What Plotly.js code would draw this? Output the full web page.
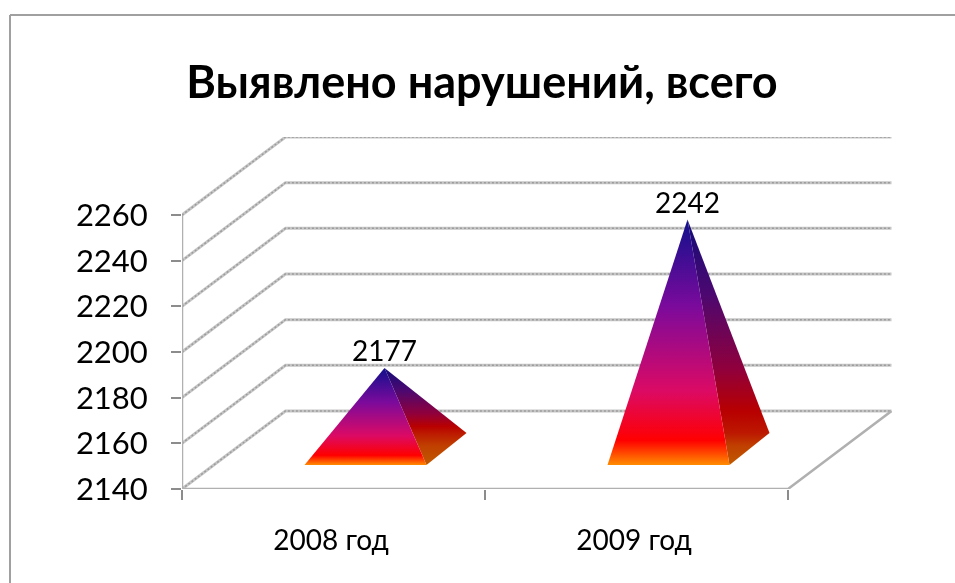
<!DOCTYPE html>
<html><head><meta charset="utf-8">
<script src="https://cdn.plot.ly/plotly-3.0.1.min.js"></script>
<style>html,body{margin:0;padding:0;background:#fff;overflow:hidden}#c{width:955px;height:583px;filter:blur(0.6px)}</style>
</head><body><div id="c"></div>
<script>
const chartTitle = "Выявлено нарушений, всего";
const categories = ["2008 год", "2009 год"];
const values = [2177, 2242];
const yTicks = [2140, 2160, 2180, 2200, 2220, 2240, 2260];

const W = 955, H = 583, L = 182, T = 137, R = 892, B = 489;
const pxX = 303, pxY = 274 / 120;
const yMin = 2140;
const depthX = 103.5 / pxX, depthY = 78 / pxY;
const xMax = (R - L) / pxX, yMax = yMin + (B - T) / pxY;
const FONT = "Lato, Carlito, Calibri, sans-serif";

const frontScale = [[0,"#ff8c00"],[0.1,"#ff0000"],[0.3,"#dc0a64"],[0.65,"#7a0a9c"],[1,"#10108c"]];

function sideScale(k){
  const at = f => k + (1 - k) * f;
  return [[0,"#c05a00"],[k*0.6,"#c04000"],[k,"#bc1800"],[at(0.1),"#b80000"],[at(0.3),"#90003c"],[at(0.65),"#4c0870"],[1,"#120c78"]];
}

function gridX(){const o=[];yTicks.forEach(()=>{o.push(0,depthX,2+depthX,null)});return o;}
function gridY(){const o=[];yTicks.forEach(v=>{o.push(v,v+depthY,v+depthY,null)});return o;}

const traces = [];
traces.push({x:gridX(),y:gridY(),mode:"lines",line:{color:"#c6c6c6",width:3},hoverinfo:"skip"});
traces.push({x:gridX(),y:gridY(),mode:"lines",line:{color:"#9c9c9c",width:1.5,dash:"2px,2px"},hoverinfo:"skip"});
traces.push({x:[0,0,null,0,2,2+depthX],y:[yTicks[0],yTicks[yTicks.length-1],null,yMin,yMin,yMin+depthY],
  mode:"lines",line:{color:"#b0b0b0",width:2.5},hoverinfo:"skip"});

const halfW = 61/pxX, frontDX = 32/pxX, sideDX = 40/pxX, frontDY = 24/pxY, sideDY = 32/pxY;
const apexDX = 51/pxX, apexDY = 16;
values.forEach((v,i)=>{
  const c = i + 0.5;
  const fl = c + frontDX - halfW, fr = c + frontDX + halfW, by = yMin + frontDY;
  const ax = c + apexDX, ay = v + apexDY;
  const k = sideDY / (ay - by);
  traces.push({x:[fr,fr+sideDX,ax,fr],y:[by,by+sideDY,ay,by],mode:"lines",fill:"toself",line:{width:0},
    fillgradient:{type:"vertical",colorscale:sideScale(k)},hoverinfo:"skip"});
  traces.push({x:[fl,fr,ax,fl],y:[by,by,ay,by],mode:"lines",fill:"toself",line:{width:0},
    fillgradient:{type:"vertical",colorscale:frontScale},hoverinfo:"skip"});
  traces.push({x:[ax],y:[ay],mode:"text",text:[String(v)],textposition:"top center",
    textfont:{family:FONT,size:28,color:"#000"},cliponaxis:false,hoverinfo:"skip"});
});

const layout = {
  width:W,height:H,autosize:false,showlegend:false,paper_bgcolor:"#fff",plot_bgcolor:"rgba(0,0,0,0)",
  margin:{l:L,r:W-R,t:T,b:H-B,pad:0},hovermode:false,
  title:{text:"<b>"+chartTitle+"</b>",font:{family:FONT,size:45,color:"#000"},x:482/W,xanchor:"center",y:1-82/H,yanchor:"middle"},
  xaxis:{range:[0,xMax],showgrid:false,zeroline:false,showline:false,
    tickmode:"array",tickvals:[0.492,1.492],ticktext:categories,ticks:"",ticklen:0,ticklabelstandoff:32,
    tickfont:{family:FONT,size:28,color:"#000"},
    minor:{tickmode:"array",tickvals:[0,1,2],ticks:"outside",ticklen:10,tickwidth:2,tickcolor:"#8c8c8c",showgrid:false}},
  yaxis:{range:[yMin,yMax],showgrid:false,zeroline:false,showline:false,
    tickmode:"array",tickvals:yTicks,ticktext:yTicks.map(String),ticks:"outside",ticklen:10,tickwidth:2,tickcolor:"#8c8c8c",
    ticklabelstandoff:17,tickfont:{family:FONT,size:31,color:"#000"}},
  shapes:[
    {type:"line",xref:"paper",yref:"paper",x0:(10-L)/(R-L),x1:(W-L)/(R-L),y0:(B-15)/(B-T),y1:(B-15)/(B-T),line:{color:"#a0a0a0",width:2}},
    {type:"line",xref:"paper",yref:"paper",x0:(10-L)/(R-L),x1:(10-L)/(R-L),y0:(B-15)/(B-T),y1:(B-H)/(B-T),line:{color:"#a0a0a0",width:2}}
  ]
};
Plotly.newPlot("c",traces,layout,{displayModeBar:false,staticPlot:true});
</script></body></html>
